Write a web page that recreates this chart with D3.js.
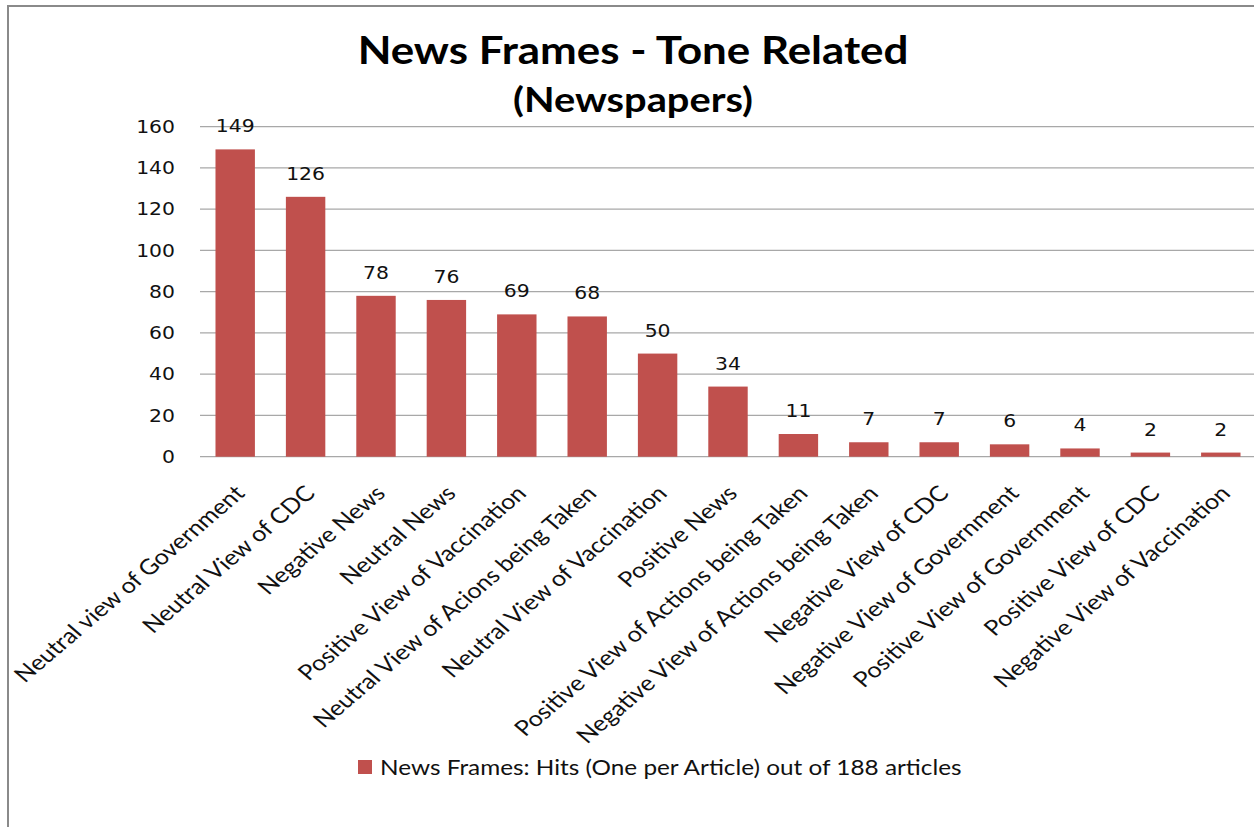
<!DOCTYPE html>
<html>
<head>
<meta charset="utf-8">
<script src="https://cdn.jsdelivr.net/npm/d3@7"></script>
<style>
  html, body { margin: 0; padding: 0; background: #fff; }
  svg { display: block; }
</style>
</head>
<body>
<svg id="chart" width="1254" height="827"></svg>
<script>
// News frame categories (tone related), newspapers
const categories = [
  "Neutral view of Government",
  "Neutral View of CDC",
  "Negative News",
  "Neutral News",
  "Positive View of Vaccination",
  "Neutral View of Acions being Taken",
  "Neutral View of Vaccination",
  "Positive News",
  "Positive View of Actions being Taken",
  "Negative View of Actions being Taken",
  "Negative View of CDC",
  "Negative View of Government",
  "Positive View of Government",
  "Positive View of CDC",
  "Negative View of Vaccination"
];
const hits = [149, 126, 78, 76, 69, 68, 50, 34, 11, 7, 7, 6, 4, 2, 2];
const yTicks = [0, 20, 40, 60, 80, 100, 120, 140, 160];
const seriesName = "News Frames: Hits (One per Article) out of 188 articles";

const W = 1254, H = 827;
const plot = { left: 200, right: 1256, top: 126.7, bottom: 456.7 };
const barColor = "#C0504D";
const labelFont = "Lato, 'Open Sans', sans-serif";
const numFont = "'DejaVu Sans', Verdana, sans-serif";
const SX = 1.17; // horizontal stretch applied to all text

const svg = d3.select("#chart");

// outer chart frame
svg.append("rect")
  .attr("x", 8).attr("y", 6)
  .attr("width", W + 20).attr("height", H + 20)
  .attr("fill", "#fff")
  .attr("stroke", "#8a8a8a")
  .attr("stroke-width", 2);

const x = d3.scaleBand()
  .domain(categories)
  .range([plot.left, plot.right])
  .paddingInner(0).paddingOuter(0);

const y = d3.scaleLinear()
  .domain([0, 160])
  .range([plot.bottom, plot.top]);

const barW = x.bandwidth() * 0.56;

// gridlines
svg.append("g")
  .selectAll("line")
  .data(yTicks)
  .join("line")
  .attr("x1", plot.left).attr("x2", W)
  .attr("y1", d => y(d)).attr("y2", d => y(d))
  .attr("stroke", "#a8a8a8")
  .attr("stroke-width", 1.3);

// y axis labels
const yAxis = d3.axisLeft(y).tickValues(yTicks).tickSize(0).tickPadding(0);
svg.append("g")
  .attr("transform", `translate(${plot.left},0)`)
  .call(yAxis)
  .call(g => g.select(".domain").remove())
  .call(g => g.selectAll("text")
    .attr("x", 0)
    .attr("transform", `translate(-25,0) scale(${SX},1)`)
    .attr("font-family", numFont)
    .attr("font-size", 17.4)
    .attr("fill", "#111"));

// bars
svg.append("g")
  .selectAll("rect")
  .data(categories)
  .join("rect")
  .attr("x", (d) => x(d) + (x.bandwidth() - barW) / 2)
  .attr("width", barW)
  .attr("y", (d, i) => y(hits[i]))
  .attr("height", (d, i) => y(0) - y(hits[i]))
  .attr("fill", barColor);

// value labels
svg.append("g")
  .selectAll("text")
  .data(categories)
  .join("text")
  .attr("transform", (d, i) => `translate(${x(d) + x.bandwidth() / 2},${y(hits[i]) - 17}) scale(${SX},1)`)
  .attr("text-anchor", "middle")
  .attr("font-family", numFont)
  .attr("font-size", 17.4)
  .attr("fill", "#111")
  .text((d, i) => hits[i]);

// rotated category labels
svg.append("g")
  .selectAll("text")
  .data(categories)
  .join("text")
  .attr("transform", d => `translate(${x(d) + x.bandwidth() / 2 - 2},${plot.bottom + 27}) scale(${SX},1) rotate(-45)`)
  .attr("text-anchor", "end")
  .attr("dy", "0.72em")
  .attr("font-family", labelFont)
  .attr("font-size", 21.5)
  .attr("fill", "#111")
  .text(d => d);

// title
svg.append("text")
  .attr("transform", `translate(633,64) scale(${SX},1)`)
  .attr("text-anchor", "middle")
  .attr("font-family", labelFont)
  .attr("font-weight", "bold")
  .attr("font-size", 37.5)
  .attr("fill", "#000")
  .text("News Frames - Tone Related");

svg.append("text")
  .attr("transform", `translate(633,112) scale(${SX},1)`)
  .attr("text-anchor", "middle")
  .attr("font-family", labelFont)
  .attr("font-weight", "bold")
  .attr("font-size", 34)
  .attr("fill", "#000")
  .text("(Newspapers)");

// legend
const legend = svg.append("g").attr("transform", "translate(358,760)");
legend.append("rect")
  .attr("width", 14).attr("height", 14)
  .attr("fill", barColor);
legend.append("text")
  .attr("transform", `translate(22,15) scale(${SX},1)`)
  .attr("font-family", labelFont)
  .attr("font-size", 20.8)
  .attr("fill", "#111")
  .text(seriesName);
</script>
</body>
</html>
